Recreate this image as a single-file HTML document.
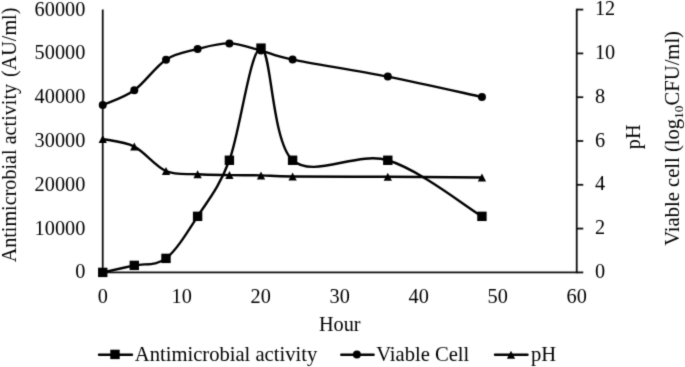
<!DOCTYPE html>
<html><head><meta charset="utf-8"><style>
html,body{margin:0;padding:0;background:#fff;}
body{width:685px;height:367px;overflow:hidden;font-family:"Liberation Serif",serif;}
svg{display:block;}
</style></head><body>
<svg width="685" height="367" viewBox="0 0 685 367">
<defs><filter id="bl" filterUnits="userSpaceOnUse" x="0" y="0" width="685" height="367"><feConvolveMatrix order="3" kernelMatrix="0.01917 0.10012 0.01917 0.10012 0.52283 0.10012 0.01917 0.10012 0.01917" edgeMode="duplicate" preserveAlpha="false"/></filter></defs>
<rect width="685" height="367" fill="#fff"/>
<g filter="url(#bl)">
<g stroke="#111" stroke-width="1.8" fill="none">
<line x1="102.75" y1="9.60" x2="102.75" y2="273.30"/>
<line x1="101.85" y1="272.40" x2="577.65" y2="272.40"/>
<line x1="576.75" y1="8.70" x2="576.75" y2="273.30"/>
<line x1="576.75" y1="272.40" x2="583.25" y2="272.40"/>
<line x1="576.75" y1="228.60" x2="583.25" y2="228.60"/>
<line x1="576.75" y1="184.80" x2="583.25" y2="184.80"/>
<line x1="576.75" y1="141.00" x2="583.25" y2="141.00"/>
<line x1="576.75" y1="97.20" x2="583.25" y2="97.20"/>
<line x1="576.75" y1="53.40" x2="583.25" y2="53.40"/>
<line x1="576.75" y1="9.60" x2="583.25" y2="9.60"/>
</g>
<g font-family="Liberation Serif" font-size="20.30" fill="#000" stroke="#000" stroke-width="0.00">
<text x="85.3" y="278.30" text-anchor="end">0</text>
<text x="85.3" y="234.50" text-anchor="end">10000</text>
<text x="85.3" y="190.70" text-anchor="end">20000</text>
<text x="85.3" y="146.90" text-anchor="end">30000</text>
<text x="85.3" y="103.10" text-anchor="end">40000</text>
<text x="85.3" y="59.30" text-anchor="end">50000</text>
<text x="85.3" y="15.50" text-anchor="end">60000</text>
<text x="594.9" y="277.90">0</text>
<text x="594.9" y="234.10">2</text>
<text x="594.9" y="190.30">4</text>
<text x="594.9" y="146.50">6</text>
<text x="594.9" y="102.70">8</text>
<text x="594.9" y="58.90">10</text>
<text x="594.9" y="15.10">12</text>
<text x="102.75" y="302.9" text-anchor="middle">0</text>
<text x="181.75" y="302.9" text-anchor="middle">10</text>
<text x="260.75" y="302.9" text-anchor="middle">20</text>
<text x="339.75" y="302.9" text-anchor="middle">30</text>
<text x="418.75" y="302.9" text-anchor="middle">40</text>
<text x="497.75" y="302.9" text-anchor="middle">50</text>
<text x="576.75" y="302.9" text-anchor="middle">60</text>
<text x="339.75" y="330.8" text-anchor="middle">Hour</text>
<text transform="translate(15.9,262.37) rotate(-90)" font-size="20.15">Antimicrobial activity <tspan dx="1.9">(AU/ml)</tspan></text>
<text transform="translate(640.3,136.8) rotate(-90)" text-anchor="middle">pH</text>
<text transform="translate(678.8,138.4) rotate(-90)" text-anchor="middle" font-size="20.6">Viable cell (log<tspan font-size="13.5" dy="4.5">10</tspan><tspan dy="-4.5">CFU/ml)</tspan></text>
<text x="134.8" y="360.9" font-size="20.6">Antimicrobial activity</text>
<text x="376.2" y="360.9" font-size="20.6">Viable Cell</text>
<text x="530.9" y="360.9" font-size="20.6">pH</text>
</g>
<g fill="none" stroke="#000" stroke-width="2.40" stroke-linecap="round" stroke-linejoin="round">
<path d="M102.75,139.03 C108.01,140.29 123.76,141.28 134.30,146.61 C144.84,151.94 155.45,166.39 166.00,171.00 C176.55,175.62 187.03,173.61 197.60,174.29 C208.17,174.97 218.83,174.92 229.40,175.10 C239.97,175.28 250.47,175.15 261.00,175.38 C271.53,175.62 271.47,176.26 292.60,176.50 C313.73,176.74 356.24,176.64 387.80,176.81 C419.36,176.97 466.26,177.39 481.95,177.51"/>
<path d="M102.75,105.00 C108.01,102.53 123.76,97.75 134.30,90.19 C144.84,82.63 155.45,66.50 166.00,59.64 C176.55,52.78 187.03,51.73 197.60,49.02 C208.17,46.31 218.83,43.14 229.40,43.39 C239.97,43.65 250.47,47.85 261.00,50.55 C271.53,53.25 271.47,55.25 292.60,59.60 C313.73,63.94 356.24,70.38 387.80,76.61 C419.36,82.85 466.26,93.60 481.95,97.00"/>
<path d="M102.75,272.40 C108.01,271.23 123.76,267.73 134.30,265.39 C144.84,263.06 155.45,266.56 166.00,258.38 C176.55,250.21 187.03,232.69 197.60,216.34 C208.17,199.98 218.83,188.30 229.40,160.27 C239.97,132.24 250.47,48.14 261.00,48.14 C271.53,48.14 271.47,141.58 292.60,160.27 C313.73,178.96 356.24,150.93 387.80,160.27 C419.36,169.62 466.26,206.99 481.95,216.34"/>
<line x1="99" y1="354.80" x2="132" y2="354.80"/>
<line x1="341.3" y1="354.80" x2="373.6" y2="354.80"/>
<line x1="495" y1="354.80" x2="527.5" y2="354.80"/>
</g>
<g fill="#000">
<path d="M102.75,135.03 L106.90,143.03 L98.60,143.03 Z"/>
<path d="M134.30,142.61 L138.45,150.61 L130.15,150.61 Z"/>
<path d="M166.00,167.00 L170.15,175.00 L161.85,175.00 Z"/>
<path d="M197.60,170.29 L201.75,178.29 L193.45,178.29 Z"/>
<path d="M229.40,171.10 L233.55,179.10 L225.25,179.10 Z"/>
<path d="M261.00,171.38 L265.15,179.38 L256.85,179.38 Z"/>
<path d="M292.60,172.50 L296.75,180.50 L288.45,180.50 Z"/>
<path d="M387.80,172.81 L391.95,180.81 L383.65,180.81 Z"/>
<path d="M481.95,173.51 L486.10,181.51 L477.80,181.51 Z"/>
<circle cx="102.75" cy="105.00" r="4.00"/>
<circle cx="134.30" cy="90.19" r="4.00"/>
<circle cx="166.00" cy="59.64" r="4.00"/>
<circle cx="197.60" cy="49.02" r="4.00"/>
<circle cx="229.40" cy="43.39" r="4.00"/>
<circle cx="261.00" cy="50.55" r="4.00"/>
<circle cx="292.60" cy="59.60" r="4.00"/>
<circle cx="387.80" cy="76.61" r="4.00"/>
<circle cx="481.95" cy="97.00" r="4.00"/>
<rect x="98.05" y="267.70" width="9.40" height="9.40"/>
<rect x="129.60" y="260.69" width="9.40" height="9.40"/>
<rect x="161.30" y="253.68" width="9.40" height="9.40"/>
<rect x="192.90" y="211.64" width="9.40" height="9.40"/>
<rect x="224.70" y="155.57" width="9.40" height="9.40"/>
<rect x="256.30" y="43.44" width="9.40" height="9.40"/>
<rect x="287.90" y="155.57" width="9.40" height="9.40"/>
<rect x="383.10" y="155.57" width="9.40" height="9.40"/>
<rect x="477.25" y="211.64" width="9.40" height="9.40"/>
<rect x="110.30" y="349.70" width="9.40" height="9.40"/>
<circle cx="356.90" cy="354.60" r="4.00"/>
<path d="M511.00,350.80 L515.15,358.80 L506.85,358.80 Z"/>
</g>
</g>
</svg>
</body></html>
